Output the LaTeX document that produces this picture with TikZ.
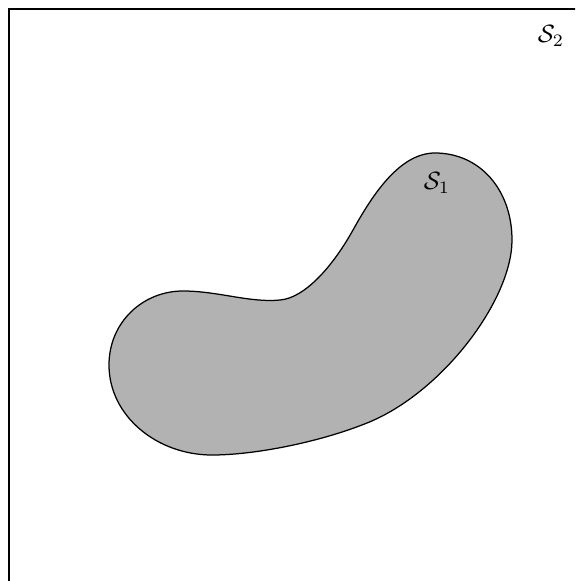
\documentclass[tikz,border=0pt]{standalone}
\usetikzlibrary{positioning}

\begin{document}
\begin{tikzpicture}[
  x=0.4pt, y=-0.4pt,
  frame/.style={draw=black, line width=0.6pt},
  region/.style={draw=black, line width=0.5pt, fill=black!30},
  setlabel/.style={inner sep=0pt}
]
\useasboundingbox (0,0) rectangle (575,581);
\clip (0,0) rectangle (575,581);

% ---- OUTER SET ----
\draw[frame] (9,9) rectangle (620,620);
\node[setlabel] (s2) at (551,36) {$\mathcal{S}_2$};

% ---- INNER SET ----
\draw[region] (109,365)
  .. controls (109,322) and (143,291) .. (183,291)
  .. controls (218,291) and (250,303) .. (280,300)
  .. controls (305,298) and (333,266) .. (353,230)
  .. controls (373,194) and (400,153) .. (435,153)
  .. controls (480,153) and (512,190) .. (512,240)
  .. controls (512,300) and (442,393) .. (367,423)
  .. controls (320,442) and (255,455) .. (212,455)
  .. controls (157,455) and (109,416) .. cycle;
\node[setlabel] (s1) at (437,183) {$\mathcal{S}_1$};
\end{tikzpicture}
\end{document}
